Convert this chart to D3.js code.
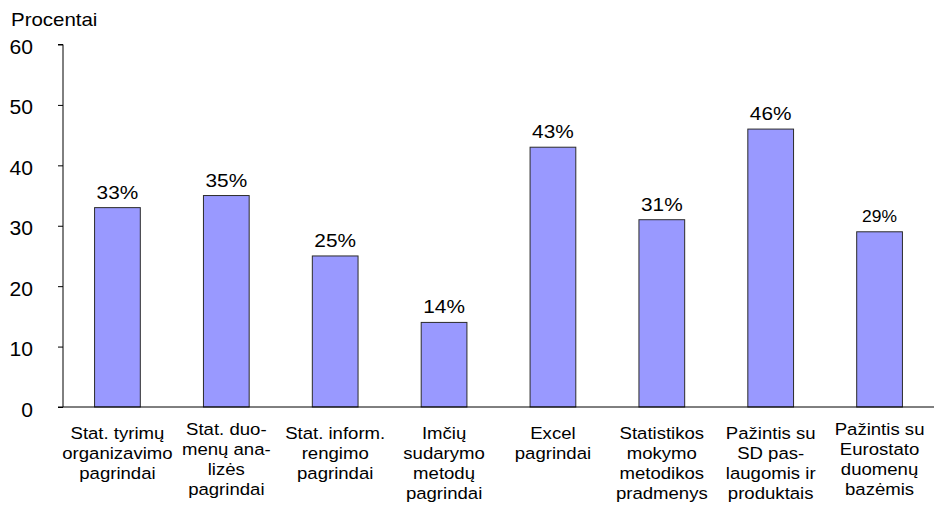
<!DOCTYPE html>
<html>
<head>
<meta charset="utf-8">
<script src="https://cdn.jsdelivr.net/npm/d3@7"></script>
<style>
  html, body { margin: 0; padding: 0; background: #fff; }
  text { font-family: "Liberation Sans", Arial, sans-serif; fill: #000; }
</style>
</head>
<body>
<svg id="chart" width="939" height="507"></svg>
<script>
const categories = [
  ["Stat. tyrimų", "organizavimo", "pagrindai"],
  ["Stat. duo-", "menų ana-", "lizės", "pagrindai"],
  ["Stat. inform.", "rengimo", "pagrindai"],
  ["Imčių", "sudarymo", "metodų", "pagrindai"],
  ["Excel", "pagrindai"],
  ["Statistikos", "mokymo", "metodikos", "pradmenys"],
  ["Pažintis su", "SD pas-", "laugomis ir", "produktais"],
  ["Pažintis su", "Eurostato", "duomenų", "bazėmis"]
];
const values = [33, 35, 25, 14, 43, 31, 46, 29];
const valueLabels = ["33%", "35%", "25%", "14%", "43%", "31%", "46%", "29%"];
const yTicks = [0, 10, 20, 30, 40, 50, 60];
const yTitle = "Procentai";

(function () {
const svg = d3.select("#chart");
const mLeft = 63, mRight = 934, mTop = 44.5, mBottom = 407;

const x = d3.scaleBand().domain(d3.range(values.length)).range([mLeft, mRight])
  .paddingInner(0.58).paddingOuter(0.29);
const y = d3.scaleLinear().domain([0, 60]).range([mBottom, mTop]);

function stretchedText(g, tx, ty, str, size, anchor, scale) {
  return g.append("text")
    .attr("transform", `translate(${tx},${ty}) scale(${scale},1)`)
    .attr("text-anchor", anchor)
    .style("font-size", size + "px")
    .text(str);
}

// bars
svg.append("g").selectAll("rect").data(values).join("rect")
  .attr("x", (d, i) => x(i))
  .attr("y", d => y(d))
  .attr("width", x.bandwidth())
  .attr("height", d => y(0) - y(d))
  .attr("fill", "#9999FF")
  .attr("stroke", "#2b2b2b")
  .attr("stroke-width", 1);

// y axis
const yAxis = d3.axisLeft(y).tickValues(yTicks).tickSize(5).tickFormat("");
const ya = svg.append("g").attr("transform", `translate(${mLeft},0)`).call(yAxis);
ya.select(".domain").attr("stroke", "#000").attr("d", `M-5,${y(60)}H0V${y(0)}`);
ya.selectAll(".tick line").attr("stroke", "#000");
const tl = svg.append("g");
yTicks.forEach(t => {
  stretchedText(tl, 33, y(t) + 9.5, String(t), 20.5, "end", 1.03);
});

// x axis line
svg.append("line")
  .attr("x1", mLeft - 5).attr("x2", mRight)
  .attr("y1", y(0)).attr("y2", y(0))
  .attr("stroke", "#000").attr("stroke-width", 1);

// value labels (last one is drawn smaller in the original)
const vl = svg.append("g");
values.forEach((v, i) => {
  const last = i === values.length - 1;
  stretchedText(vl, x(i) + x.bandwidth() / 2, y(v) - (last ? 10 : 9), valueLabels[i],
    last ? 16.3 : 18.6, "middle", last ? 1.07 : 1.12);
});

// category labels
const cl = svg.append("g");
categories.forEach((lines, i) => {
  const cx = x(i) + x.bandwidth() / 2;
  const shift = (i === 1 || i === 7) ? -4 : 0;
  lines.forEach((ln, j) => {
    stretchedText(cl, cx, 439 + shift + j * 20, ln, 17.2, "middle", 1.08);
  });
});

// y title
stretchedText(svg.append("g"), 11, 26, yTitle, 18.6, "start", 1.1);
})();
</script>
</body>
</html>
